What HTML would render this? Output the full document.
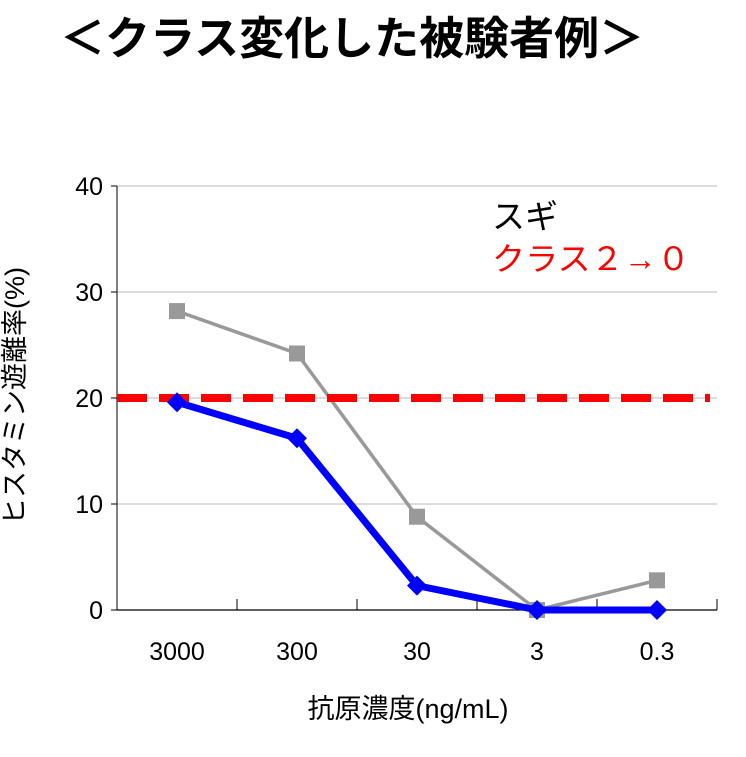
<!DOCTYPE html>
<html><head><meta charset="utf-8">
<style>
body{margin:0;background:#fff;}
svg text{font-family:"Liberation Sans","Noto Sans CJK JP",sans-serif;}
</style></head>
<body>
<svg id="chart" width="746" height="752" viewBox="0 0 746 752" xmlns="http://www.w3.org/2000/svg">
<text x="60" y="54" font-size="45" font-weight="bold" fill="#000">＜クラス変化した被験者例＞</text>
<g id="grid"></g>
<g id="axes"></g>
<g id="series"></g>
<text x="492" y="228" font-size="33" fill="#000">スギ</text>
<text x="492" y="270" font-size="32" fill="#ff0000" textLength="198" lengthAdjust="spacingAndGlyphs">クラス２→０</text>
<text x="408" y="718" font-size="27" text-anchor="middle" fill="#000">抗原濃度(ng/mL)</text>
<text transform="translate(24,396) rotate(-90)" font-size="27" text-anchor="middle" fill="#000">ヒスタミン遊離率(%)</text>
</svg>
<script>
const categories=["3000","300","30","3","0.3"];
const grayValues=[28.2,24.2,8.8,0,2.8];
const blueValues=[19.6,16.2,2.3,0,0];
const thresholdValue=20;
const yTicks=[0,10,20,30,40];
const NS="http://www.w3.org/2000/svg";
const X0=117,X1=717,Y0=610,Y1=186,YMAX=40;
const xs=i=>X0+(X1-X0)/categories.length*(i+0.5);
const ys=v=>Y0-(Y0-Y1)*v/YMAX;
function mk(tag,at,parent){const e=document.createElementNS(NS,tag);for(const k in at)e.setAttribute(k,at[k]);parent.appendChild(e);return e;}
const grid=document.getElementById('grid'),axes=document.getElementById('axes'),ser=document.getElementById('series');
yTicks.forEach(t=>{
  const y=ys(t);
  if(t>0){const l=mk('line',{x1:X0,x2:X1,y1:y,y2:y,stroke:'#c8c8c8','stroke-width':1.3},grid);
  
  }
  const tl=mk('line',{x1:X0-6,x2:X0,y1:y,y2:y,stroke:'#000','stroke-width':1},axes);
  
  
  const tx=mk('text',{x:X0-14,y:y+9,'font-size':25,'text-anchor':'end',fill:'#000'},axes);
  tx.textContent=t;
  
  
});
const ya=mk('line',{x1:X0,x2:X0,y1:Y1,y2:Y0,stroke:'#000','stroke-width':1},axes);


const xa=mk('line',{x1:X0,x2:X1,y1:Y0,y2:Y0,stroke:'#000','stroke-width':1.3},axes);


for(let i=0;i<=categories.length;i++){
  const x=X0+(X1-X0)/categories.length*i;
  const t=mk('line',{x1:x,x2:x,y1:Y0-11,y2:Y0,stroke:'#000','stroke-width':1},axes);
  
  
}
categories.forEach((c,i)=>{
  const tx=mk('text',{x:xs(i),y:660,'font-size':25,'text-anchor':'middle',fill:'#000'},axes);
  tx.textContent=c;
  
  
});
const gp=mk('polyline',{points:grayValues.map((v,i)=>xs(i)+','+ys(v)).join(' '),fill:'none',stroke:'#999','stroke-width':3.5},ser);


grayValues.forEach((v,i)=>{
  const r=mk('rect',{x:xs(i)-8,y:ys(v)-8,width:16,height:16,fill:'#999'},ser);
  
  
});
const th=mk('line',{x1:X0,x2:710,y1:ys(thresholdValue),y2:ys(thresholdValue),stroke:'#ff0000','stroke-width':8,'stroke-dasharray':'30,12'},ser);


const bp=mk('polyline',{points:blueValues.map((v,i)=>xs(i)+','+ys(v)).join(' '),fill:'none',stroke:'#0000ff','stroke-width':7,'stroke-linejoin':'round'},ser);


blueValues.forEach((v,i)=>{
  const x=xs(i),y=ys(v);
  const d=mk('polygon',{points:`${x},${y-10} ${x+10},${y} ${x},${y+10} ${x-10},${y}`,fill:'#0000ff'},ser);
  
  
});
</script>
</body></html>
